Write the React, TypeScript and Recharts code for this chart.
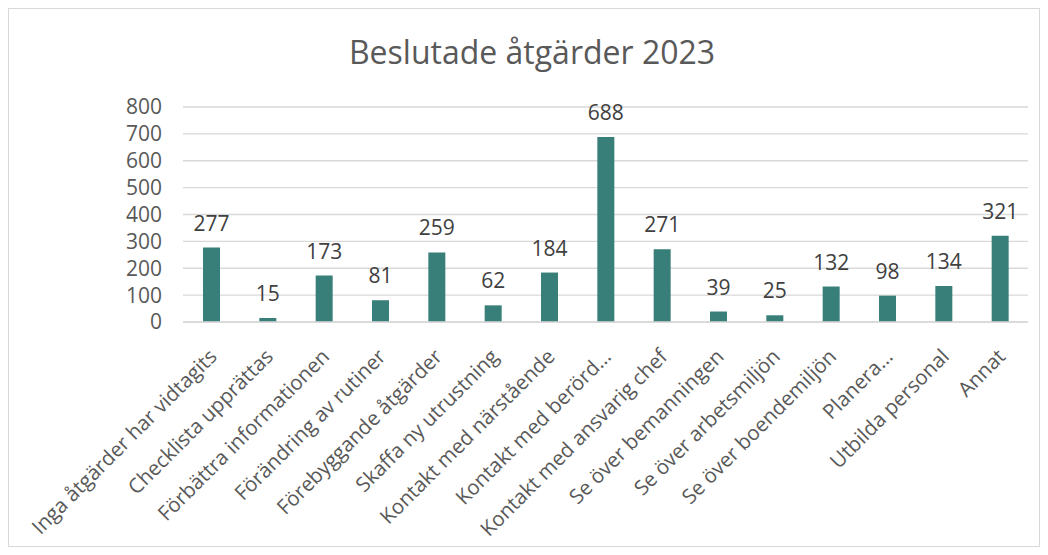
import { BarChart, Bar, XAxis, YAxis, CartesianGrid, LabelList } from 'recharts';

const categories = [
  'Inga åtgärder har vidtagits',
  'Checklista upprättas',
  'Förbättra informationen',
  'Förändring av rutiner',
  'Förebyggande åtgärder',
  'Skaffa ny utrustning',
  'Kontakt med närstående',
  'Kontakt med berörd…',
  'Kontakt med ansvarig chef',
  'Se över bemanningen',
  'Se över arbetsmiljön',
  'Se över boendemiljön',
  'Planera…',
  'Utbilda personal',
  'Annat',
];

const counts = [277, 15, 173, 81, 259, 62, 184, 688, 271, 39, 25, 132, 98, 134, 321];

const yTicks = [0, 100, 200, 300, 400, 500, 600, 700, 800];

const data = categories.map((name, i) => ({ name, value: counts[i] }));

const FONT = '"Open Sans", "Noto Sans", sans-serif';
const TEXT = '#595959';

function XTick({ x, y, payload }: { x: number; y: number; payload: { value: string } }) {
  return (
    <g transform={`translate(${x + 3},${y + 24})`}>
      <text
        transform="rotate(-45)"
        textAnchor="end"
        dominantBaseline="middle"
        fill={TEXT}
        fontSize={20.5}
        fontFamily={FONT}
      >
        {payload.value}
      </text>
    </g>
  );
}

export default function App() {
  return (
    <div
      style={{
        position: 'relative',
        width: 1030,
        height: 537,
        border: '1px solid #d9d9d9',
        background: '#fff',
        fontFamily: FONT,
      }}
    >
      <div
        style={{
          position: 'absolute',
          left: 0,
          width: 1046,
          top: 22,
          textAlign: 'center',
          fontSize: 32,
          color: TEXT,
          lineHeight: '42px',
        }}
      >
        Beslutade åtgärder 2023
      </div>
      <BarChart
        width={1030}
        height={537}
        data={data}
        margin={{ top: 98, right: 11, left: 0, bottom: 10 }}
      >
        <CartesianGrid vertical={false} stroke="#d9d9d9" strokeWidth={1.3} />
        <XAxis
          dataKey="name"
          interval={0}
          height={214}
          tickLine={false}
          axisLine={{ stroke: '#d9d9d9', strokeWidth: 1.3 }}
          tick={XTick as any}
        />
        <YAxis
          width={174}
          domain={[0, 800]}
          ticks={yTicks}
          interval={0}
          axisLine={false}
          tickLine={false}
          tickSize={0}
          tickMargin={21}
          tick={{ fill: TEXT, fontSize: 21, fontFamily: FONT }}
        />
        <Bar dataKey="value" fill="#387e79" barSize={17} isAnimationActive={false}>
          <LabelList
            dataKey="value"
            position="top"
            offset={17}
            fill="#404040"
            fontSize={21}
            fontFamily={FONT}
          />
        </Bar>
      </BarChart>
    </div>
  );
}
